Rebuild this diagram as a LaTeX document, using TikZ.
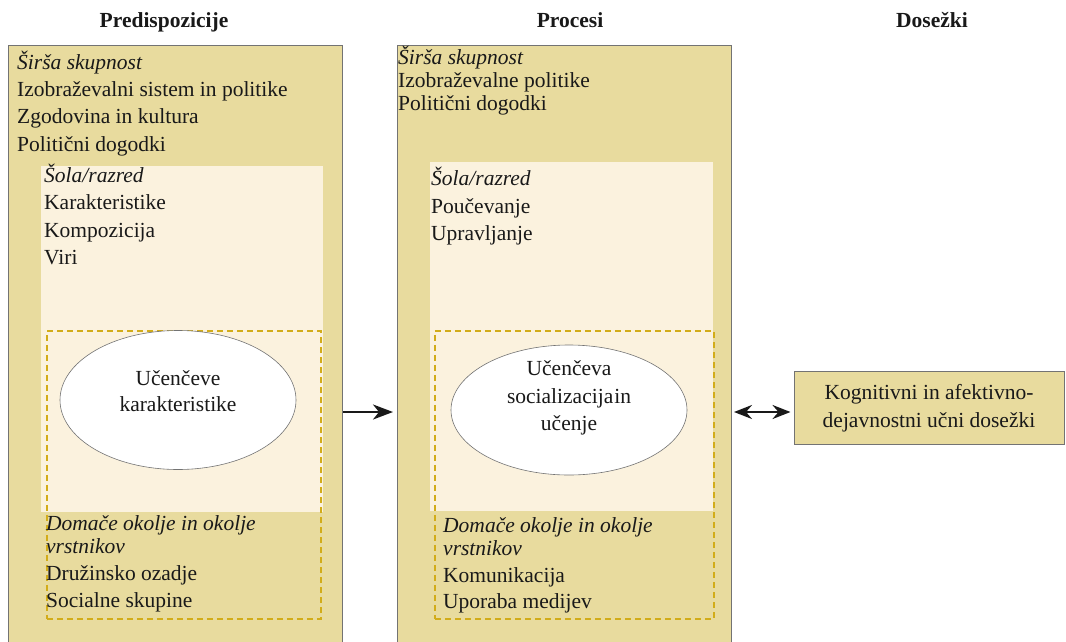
\documentclass[tikz,border=0pt]{standalone}
\usepackage{fontspec}
\setmainfont{Liberation Serif}
\usetikzlibrary{arrows.meta,shapes.geometric}
\definecolor{outerfill}{RGB}{232,219,158}
\definecolor{innerfill}{RGB}{251,242,222}
\definecolor{dashcol}{RGB}{210,172,25}
\definecolor{bordergrey}{RGB}{115,115,115}
\definecolor{txt}{RGB}{25,25,25}
\begin{document}
\begin{tikzpicture}[x=1pt,y=-1pt,
  outerbox/.style={draw=bordergrey, fill=outerfill, line width=1pt, rectangle, anchor=north west, inner sep=0pt},
  innerbox/.style={fill=innerfill, draw=none, rectangle, anchor=north west, inner sep=0pt},
  dashbox/.style={draw=dashcol, dash pattern=on 6pt off 4pt, line width=1.8pt, rectangle, anchor=north west, inner sep=0pt},
  ellbox/.style={ellipse, draw=bordergrey, fill=white, line width=0.6pt, inner sep=0pt},
  lbl/.style={anchor=base west, inner sep=0pt, font=\fontsize{21.5}{24}\selectfont, text=txt},
  ilbl/.style={lbl, font=\fontsize{21.5}{24}\selectfont\itshape},
  clbl/.style={lbl, anchor=base},
  title/.style={anchor=base, inner sep=0pt, font=\fontsize{21.5}{24}\selectfont\bfseries, text=txt},
  arr/.style={line width=2.6pt, draw=txt, -{Stealth[length=20pt,width=15pt,inset=6pt]}},
  darr/.style={line width=2.6pt, draw=txt, {Stealth[length=18pt,width=14pt,inset=6pt]}-{Stealth[length=18pt,width=14pt,inset=6pt]}}
]
\useasboundingbox (0,0) rectangle (1066,641);
\clip (0,0) rectangle (1066,641);

% titles
\node[title] (t1) at (164,27) {Predispozicije};
\node[title] (t2) at (570,27) {Procesi};
\node[title] (t3) at (932,27) {Dosežki};

% ---------- left column ----------
\node[outerbox, minimum width=334, minimum height=640] (lbox) at (8,45) {};
\node[innerbox, minimum width=282, minimum height=346] (lin) at (41,166) {};
\node[dashbox, minimum width=274, minimum height=288] (ldash) at (46,330) {};
\node[ellbox, minimum width=236, minimum height=139] (lell) at (178,400) {};

\node[ilbl] (l1) at (17,69) {Širša skupnost};
\node[lbl] (l2) at (17,96) {Izobraževalni sistem in politike};
\node[lbl] (l3) at (17,123) {Zgodovina in kultura};
\node[lbl] (l4) at (17,151) {Politični dogodki};
\node[ilbl] (l5) at (44,182) {Šola/razred};
\node[lbl] (l6) at (44,209) {Karakteristike};
\node[lbl] (l7) at (44,237) {Kompozicija};
\node[lbl] (l8) at (44,264) {Viri};
\node[clbl] (le1) at (178,385) {Učenčeve};
\node[clbl] (le2) at (178,411) {karakteristike};
\node[ilbl] (l9) at (46,530) {Domače okolje in okolje};
\node[ilbl] (l10) at (46,553) {vrstnikov};
\node[lbl] (l11) at (46,580) {Družinsko ozadje};
\node[lbl] (l12) at (46,607) {Socialne skupine};

% ---------- middle column ----------
\node[outerbox, minimum width=334, minimum height=640] (mbox) at (397,45) {};
\node[innerbox, minimum width=283, minimum height=349] (min) at (430,162) {};
\node[dashbox, minimum width=279, minimum height=288] (mdash) at (434,330) {};
\node[ellbox, minimum width=236, minimum height=130] (mell) at (569,410) {};

\node[ilbl] (m1) at (398,64) {Širša skupnost};
\node[lbl] (m2) at (398,87) {Izobraževalne politike};
\node[lbl] (m3) at (398,110) {Politični dogodki};
\node[ilbl] (m4) at (431,185) {Šola/razred};
\node[lbl] (m5) at (431,213) {Poučevanje};
\node[lbl] (m6) at (431,240) {Upravljanje};
\node[clbl] (me1) at (569,375) {Učenčeva};
\node[clbl] (me2) at (569,403) {socializacija\hspace{1pt}in};
\node[clbl] (me3) at (569,430) {učenje};
\node[ilbl] (m7) at (443,532) {Domače okolje in okolje};
\node[ilbl] (m8) at (443,555) {vrstnikov};
\node[lbl] (m9) at (443,582) {Komunikacija};
\node[lbl] (m10) at (443,608) {Uporaba medijev};

% ---------- right column ----------
\node[rectangle, draw=bordergrey, fill=outerfill, line width=1pt, minimum width=270, minimum height=73,
      align=center, inner sep=0pt, text=txt, font=\fontsize{21.5}{28}\selectfont] (rbox) at (929,408)
      {Kognitivni in afektivno-\\dejavnostni učni dosežki};

% ---------- connectors ----------
\coordinate (ay) at (0,412);
\draw[arr] (lbox.east |- ay) -- ([xshift=-4pt]mbox.west |- ay);
\draw[darr] ([xshift=2pt]mbox.east |- ay) -- ([xshift=-3pt]rbox.west |- ay);
\end{tikzpicture}
\end{document}
